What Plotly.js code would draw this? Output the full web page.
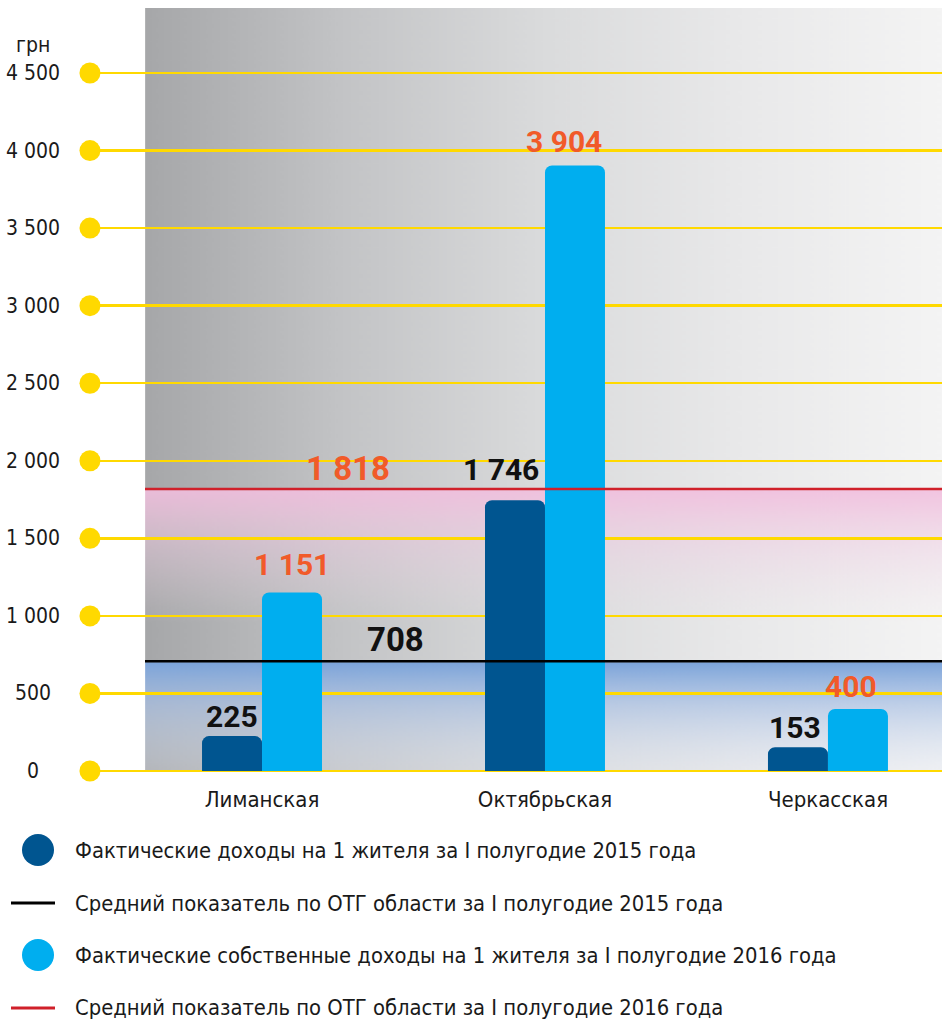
<!DOCTYPE html>
<html>
<head>
<meta charset="utf-8">
<script src="https://cdn.plot.ly/plotly-3.0.1.min.js"></script>
<style>
  html, body { margin: 0; padding: 0; background: #ffffff; }
  #chart { width: 942px; height: 1020px; }
</style>
</head>
<body>
<div id="chart"></div>
<script>
// ---------------- DATA ----------------
const categories = ['Лиманская', 'Октябрьская', 'Черкасская'];
const income2015 = [225, 1746, 153];
const ownIncome2016 = [1151, 3904, 400];
const avg2015 = 708;
const avg2016 = 1818;
const yTickVals = [0, 500, 1000, 1500, 2000, 2500, 3000, 3500, 4000, 4500];
const yTickText = ['0', '500', '1 000', '1 500', '2 000', '2 500', '3 000', '3 500', '4 000', '4 500'];
const yUnit = 'грн';
const legendNames = [
  'Фактические доходы на 1 жителя за I полугодие 2015 года',
  'Средний показатель по ОТГ области за I полугодие 2015 года',
  'Фактические собственные доходы на 1 жителя за I полугодие 2016 года',
  'Средний показатель по ОТГ области за I полугодие 2016 года'
];

// ---------------- STYLE ----------------
const COL_DARK = '#005590';
const COL_LIGHT = '#00aeef';
const COL_ORANGE = '#f15a29';
const COL_RED = '#d0202a';
const COL_YELLOW = '#ffd900';
const FONT_TEXT = 'DejaVu Sans Condensed, Liberation Sans Narrow, sans-serif';
const FONT_NUM = 'Roboto, Inter, sans-serif';

const W = 942, Hh = 1020;
const M = { l: 86, r: 0, t: 8, b: 249 };
const PW = W - M.l - M.r, PH = Hh - M.t - M.b;
const xRange = [-0.622, 2.403];
const yRange = [0, 4919];
const bgLeftX = -0.413;
const dotX = -0.608;
const BAR_HALF = 0.106;          // half of one bar width (x units)
// label nudges (pixels) for value labels: [dark bars], [light bars]
const darkLabelDX = [0, -14, -3], darkLabelDY = [0, 11, 0];
const lightLabelDX = [0, -11, -7], lightLabelDY = [8, 4, 3];

function fmt(v) { return String(v).replace(/\B(?=(\d{3})+(?!\d))/g, ' '); }
function pxX(px) { return (px - M.l) / PW; }
function pxY(py) { return (M.t + PH - py) / PH; }

// ---------------- BACKGROUND (canvas gradient) ----------------
function makeBg() {
  const cw = 400, ch = 400;
  const c = document.createElement('canvas');
  c.width = cw; c.height = ch;
  const g = c.getContext('2d');
  const cy = v => ch * (1 - v / yRange[1]);
  const hg = g.createLinearGradient(0, 0, cw, 0);
  hg.addColorStop(0, '#a6a7a9');
  hg.addColorStop(0.25, '#c3c4c6');
  hg.addColorStop(0.5, '#dadbdc');
  hg.addColorStop(0.75, '#e9e9ea');
  hg.addColorStop(1, '#f4f4f4');
  g.fillStyle = hg; g.fillRect(0, 0, cw, ch);
  const pg = g.createLinearGradient(0, cy(avg2016), 0, cy(950));
  pg.addColorStop(0, 'rgba(242,190,222,0.9)');
  pg.addColorStop(0.45, 'rgba(238,205,226,0.45)');
  pg.addColorStop(1, 'rgba(236,220,230,0)');
  g.fillStyle = pg; g.fillRect(0, cy(avg2016), cw, cy(950) - cy(avg2016));
  const bg = g.createLinearGradient(0, cy(avg2015), 0, cy(0));
  bg.addColorStop(0, 'rgba(122,163,218,1)');
  bg.addColorStop(0.4, 'rgba(170,193,228,0.7)');
  bg.addColorStop(1, 'rgba(222,229,242,0.25)');
  g.fillStyle = bg; g.fillRect(0, cy(avg2015), cw, cy(0) - cy(avg2015));
  return c.toDataURL('image/png');
}

// ---------------- TRACES ----------------
const xIdx = categories.map((_, i) => i);
const traces = [
  {
    type: 'bar', x: xIdx, y: income2015, name: legendNames[0],
    marker: { color: COL_DARK, cornerradius: 7, line: { width: 0 } },
    hoverinfo: 'skip', showlegend: false
  },
  {
    type: 'bar', x: xIdx, y: ownIncome2016, name: legendNames[2],
    marker: { color: COL_LIGHT, cornerradius: 7, line: { width: 0 } },
    hoverinfo: 'skip', showlegend: false
  },
  {
    type: 'scatter', mode: 'markers',
    x: yTickVals.map(() => dotX), y: yTickVals,
    marker: { size: 21, color: COL_YELLOW },
    cliponaxis: false, hoverinfo: 'skip', showlegend: false
  }
];

// ---------------- ANNOTATIONS ----------------
const annotations = [];
yTickVals.forEach((v, i) => {
  annotations.push({
    xref: 'paper', yref: 'y', x: pxX(33), y: v, xanchor: 'center', yanchor: 'middle',
    text: yTickText[i], showarrow: false,
    font: { family: FONT_TEXT, size: 21, color: '#1a1a1a' }
  });
});
annotations.push({
  xref: 'paper', yref: 'paper', x: pxX(33), y: pxY(45), xanchor: 'center', yanchor: 'middle',
  text: yUnit, showarrow: false, font: { family: FONT_TEXT, size: 21, color: '#1a1a1a' }
});
// value labels
income2015.forEach((v, i) => {
  annotations.push({
    xref: 'x', yref: 'y', x: i - BAR_HALF, y: v, xanchor: 'center', yanchor: 'bottom',
    xshift: darkLabelDX[i], yshift: darkLabelDY[i],
    text: fmt(v), showarrow: false,
    font: { family: FONT_NUM, size: 30, color: '#111111', weight: 700 }
  });
});
ownIncome2016.forEach((v, i) => {
  annotations.push({
    xref: 'x', yref: 'y', x: i + BAR_HALF, y: v, xanchor: 'center', yanchor: 'bottom',
    xshift: lightLabelDX[i], yshift: lightLabelDY[i],
    text: fmt(v), showarrow: false,
    font: { family: FONT_NUM, size: 30, color: COL_ORANGE, weight: 700 }
  });
});
annotations.push({
  xref: 'x', yref: 'y', x: 0.305, y: avg2016, xanchor: 'center', yanchor: 'bottom', yshift: -1,
  text: fmt(avg2016), showarrow: false,
  font: { family: FONT_NUM, size: 33, color: COL_ORANGE, weight: 700 }
});
annotations.push({
  xref: 'x', yref: 'y', x: 0.47, y: avg2015, xanchor: 'center', yanchor: 'bottom', yshift: 0,
  text: fmt(avg2015), showarrow: false,
  font: { family: FONT_NUM, size: 33, color: '#111111', weight: 700 }
});

// Legend (custom)
const legendRowsY = [850, 903, 955, 1008];
const legendKinds = ['dot', 'line', 'dot', 'line'];
const legendColors = [COL_DARK, '#000000', COL_LIGHT, COL_RED];
const shapes = [];
legendNames.forEach((name, i) => {
  annotations.push({
    xref: 'paper', yref: 'paper', x: pxX(73), y: pxY(legendRowsY[i]), xanchor: 'left', yanchor: 'middle',
    text: name, showarrow: false, font: { family: FONT_TEXT, size: 21.8, color: '#1a1a1a' }
  });
  if (legendKinds[i] === 'dot') {
    shapes.push({
      type: 'circle', xref: 'paper', yref: 'paper',
      x0: pxX(22), x1: pxX(54), y0: pxY(legendRowsY[i] + 16), y1: pxY(legendRowsY[i] - 16),
      fillcolor: legendColors[i], line: { width: 0 }
    });
  } else {
    shapes.push({
      type: 'line', xref: 'paper', yref: 'paper',
      x0: pxX(11), x1: pxX(55), y0: pxY(legendRowsY[i]), y1: pxY(legendRowsY[i]),
      line: { color: legendColors[i], width: 3 }
    });
  }
});

// Average lines
shapes.push({
  type: 'line', layer: 'above', xref: 'paper', yref: 'y',
  x0: pxX(145), x1: 1, y0: avg2015, y1: avg2015,
  line: { color: '#000000', width: 2.5 }
});
shapes.push({
  type: 'line', layer: 'above', xref: 'paper', yref: 'y',
  x0: pxX(145), x1: 1, y0: avg2016, y1: avg2016,
  line: { color: COL_RED, width: 2.5 }
});

const layout = {
  width: W, height: Hh,
  margin: M,
  paper_bgcolor: '#ffffff',
  plot_bgcolor: '#ffffff',
  showlegend: false,
  barmode: 'group',
  bargap: 0.576,
  bargroupgap: 0,
  xaxis: {
    type: 'linear', range: xRange, fixedrange: true,
    tickvals: xIdx, ticktext: categories,
    showgrid: false, zeroline: false, showline: false, ticks: '',
    ticklabelstandoff: 13,
    tickfont: { family: FONT_TEXT, size: 22, color: '#1a1a1a' }
  },
  yaxis: {
    range: yRange, fixedrange: true,
    tickvals: yTickVals, showticklabels: false,
    showgrid: true, gridcolor: COL_YELLOW, gridwidth: 2.5,
    zeroline: true, zerolinecolor: COL_YELLOW, zerolinewidth: 2.5,
    showline: false, ticks: ''
  },
  images: [{
    source: makeBg(), xref: 'x', yref: 'y',
    x: bgLeftX, y: yRange[1], sizex: xRange[1] - bgLeftX, sizey: yRange[1],
    xanchor: 'left', yanchor: 'top', sizing: 'stretch', layer: 'below'
  }],
  shapes: shapes,
  annotations: annotations
};

Plotly.newPlot('chart', traces, layout, { displayModeBar: false, staticPlot: true });
</script>
</body>
</html>
